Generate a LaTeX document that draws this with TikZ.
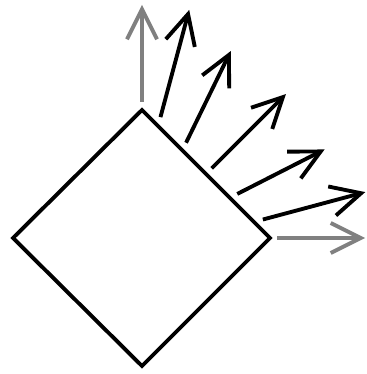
\documentclass[tikz,border=0pt]{standalone}
\usepackage{tikz}
\usetikzlibrary{arrows.meta,calc}
\definecolor{rayGray}{RGB}{128,128,128}

\begin{document}
\begin{tikzpicture}[x=0.02cm,y=0.02cm,
  vec/.style={line width=2.2pt,-{Straight Barb[length=0.6cm,width=0.6cm]}}]
  \useasboundingbox (0,0) rectangle (367,374);
  % the square, turned on its corner
  \coordinate (top) at (142,264);
  \coordinate (right) at (270,136);
  \coordinate (bottom) at (142,8);
  \coordinate (left) at (13,136);
  \draw[line width=2.2pt,line join=miter] (top) -- (right) -- (bottom) -- (left) -- cycle;
  % grey arrows at the two corners
  \coordinate (up0) at ($(top)+(0,8)$);
  \coordinate (up1) at ($(up0)+(0,97)$);
  \coordinate (rt0) at ($(right)+(7,0)$);
  \coordinate (rt1) at ($(rt0)+(88,0)$);
  \draw[vec,rayGray] (up0) -- (up1);
  \draw[vec,rayGray] (rt0) -- (rt1);
  % black arrows along the upper right side
  \foreach \i/\t/\a/\l in {1/0.1/75/111,2/0.3/64/102,3/0.5/45/105,4/0.7/27/98,5/0.9/15/106}{
    \coordinate (s\i) at ($(top)!\t!(right)+(45:8)$);
    \coordinate (e\i) at ($(s\i)+(\a:\l)$);
    \draw[vec] (s\i) -- (e\i);
  }
\end{tikzpicture}
\end{document}
